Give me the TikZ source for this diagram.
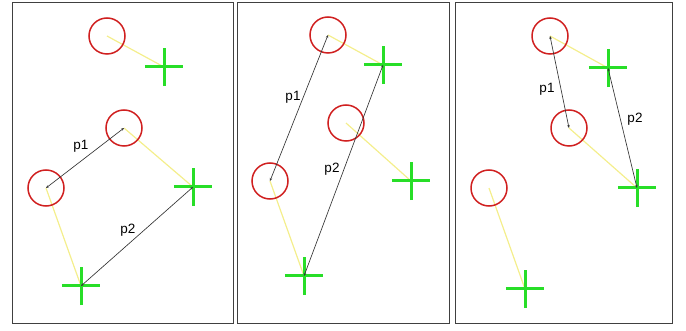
\documentclass[tikz,border=0pt]{standalone}
\usepackage{fontspec}
\setmainfont{Liberation Sans}
\usetikzlibrary{shapes.misc,arrows.meta}
\definecolor{ringred}{RGB}{208,32,32}
\definecolor{plusgreen}{RGB}{40,222,40}
\definecolor{linkyellow}{RGB}{244,238,140}
\begin{document}
\begin{tikzpicture}[x=1pt,y=-1pt,
  every node/.style={font=\fontsize{13.5}{15}\selectfont},
  ring/.style={draw=ringred,line width=1.5pt,circle,minimum size=36pt,inner sep=0pt},
  plusmark/.style={draw=plusgreen,line width=3pt,cross out,rotate=45,minimum size=24pt,inner sep=0pt},
  link/.style={linkyellow,line width=1.2pt},
  pvec/.style={black!80,line width=0.65pt,{Stealth[length=3pt,width=2.5pt]}-{Stealth[length=3pt,width=2.5pt]}},
  panel/.style={draw=black!75,line width=0.8pt}]
  \useasboundingbox (0,0) rectangle (686,331);
  % frames
  \draw[panel] (12,2) rectangle (233,323);
  \draw[panel] (237,2) rectangle (449,323);
  \draw[panel] (455,2) rectangle (672,323);
  % panel 1
  \coordinate (a1) at (107,36);  \coordinate (x1) at (164,67);
  \coordinate (b1) at (124,128); \coordinate (y1) at (193,187);
  \coordinate (c1) at (46,188);  \coordinate (z1) at (81,286);
  \draw[link] (a1) -- (x1);
  \draw[link] (b1) -- (y1);
  \draw[link] (c1) -- (z1);
  \node[ring] (ra1) at (a1) {};
  \node[ring] (rb1) at (b1) {};
  \node[ring] (rc1) at (c1) {};
  \node[plusmark] (px1) at (x1) {};
  \node[plusmark] (py1) at (y1) {};
  \node[plusmark] (pz1) at (z1) {};
  \draw[pvec] (rb1.center) -- (rc1.center);
  \draw[pvec] (py1.center) -- (pz1.center);
  \node (lp1) at (81,146) {p1};
  \node (lq1) at (128,230) {p2};
  % panel 2
  \coordinate (a2) at (328,35);  \coordinate (x2) at (383,65);
  \coordinate (b2) at (346,123); \coordinate (y2) at (411,181);
  \coordinate (c2) at (270,181); \coordinate (z2) at (304,276);
  \draw[link] (a2) -- (x2);
  \draw[link] (b2) -- (y2);
  \draw[link] (c2) -- (z2);
  \node[ring] (ra2) at (a2) {};
  \node[ring] (rb2) at (b2) {};
  \node[ring] (rc2) at (c2) {};
  \node[plusmark] (px2) at (x2) {};
  \node[plusmark] (py2) at (y2) {};
  \node[plusmark] (pz2) at (z2) {};
  \draw[pvec] (rc2.center) -- (ra2.center);
  \draw[pvec] (pz2.center) -- (px2.center);
  \node (lp2) at (293,97) {p1};
  \node (lq2) at (332,169) {p2};
  % panel 3
  \coordinate (a3) at (550,36);  \coordinate (x3) at (608,68);
  \coordinate (b3) at (569,128); \coordinate (y3) at (637,188);
  \coordinate (c3) at (489,188); \coordinate (z3) at (525,289);
  \draw[link] (a3) -- (x3);
  \draw[link] (b3) -- (y3);
  \draw[link] (c3) -- (z3);
  \node[ring] (ra3) at (a3) {};
  \node[ring] (rb3) at (b3) {};
  \node[ring] (rc3) at (c3) {};
  \node[plusmark] (px3) at (x3) {};
  \node[plusmark] (py3) at (y3) {};
  \node[plusmark] (pz3) at (z3) {};
  \draw[pvec] (ra3.center) -- (rb3.center);
  \draw[pvec] (px3.center) -- (py3.center);
  \node (lp3) at (547,89) {p1};
  \node (lq3) at (635,119) {p2};
\end{tikzpicture}
\end{document}
